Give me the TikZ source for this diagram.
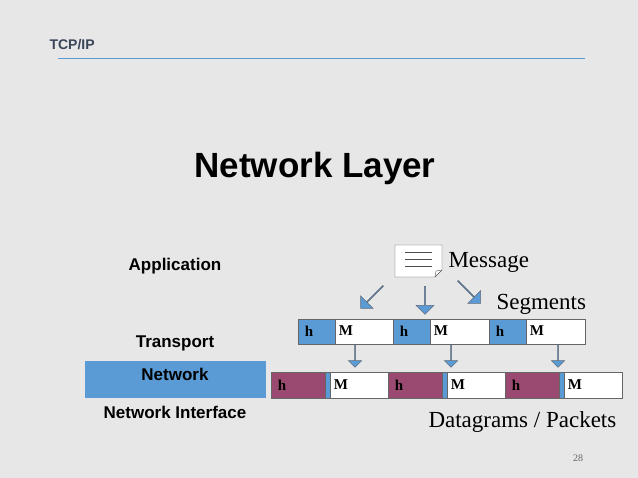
\documentclass[tikz,border=0pt]{standalone}
\usepackage{fontspec}
\setmainfont{Liberation Serif}
\newfontfamily\sans{Liberation Sans}
\usetikzlibrary{shapes.arrows}
\definecolor{bg}{HTML}{E7E7E7}
\definecolor{bl}{HTML}{5B9BD5}
\definecolor{pu}{HTML}{9A4A70}
\definecolor{hd}{HTML}{3A4658}
\begin{document}
\begin{tikzpicture}[x=1pt,y=-1pt,
  lay/.style={font=\sans\bfseries\fontsize{17}{19}\selectfont},
  cell/.style={draw=black!60,line width=0.5pt,anchor=north west,inner sep=0pt},
  ht/.style={font=\bfseries\fontsize{15}{16}\selectfont},
  bar/.style={single arrow,draw=hd!80,fill=bl,line width=0.5pt,minimum width=18pt,single arrow head extend=4pt,single arrow tip angle=90,inner sep=0pt,minimum height=#1},
  lbl/.style={font=\fontsize{23}{26}\selectfont}]
\fill[bg] (0,0) rectangle (638,478);
\useasboundingbox (0,0) rectangle (638,478);
\node[font=\sans\bfseries\fontsize{14}{16}\selectfont,text=hd,anchor=west] (tcp) at (46,45) {TCP/IP};
\coordinate (l1) at (58,58); \coordinate (l2) at (585,58);
\draw[bl,line width=0.8pt] (l1) -- (l2);
\node[font=\sans\bfseries\fontsize{35}{40}\selectfont] (title) at (315,168) {Network Layer};
\node[lay] (app) at (175,266) {Application};
\node[lay] (tra) at (175,343) {Transport};
\fill[bl] (85,361) rectangle (266,398);
\node[lay] (net) at (175,374) {Network};
\node[lay] (ni) at (175,412) {Network Interface};
% message icon
\draw[fill=white,draw=black!70] (395,245) -- (442,245) -- (442,270) -- (435,277) -- (395,277) -- cycle;
\draw[black!70] (435,277) -- (436,271) -- (442,270);
\foreach \yy in {252,259,266} \draw[black!70] (405,\yy) -- (432,\yy);
\node[lbl,anchor=west] (msg) at (445,262) {Message};
\node[lbl,anchor=west] (seg) at (493,304) {Segments};
% segments
\foreach \x/\n in {298/1,393/2,489/3}{
  \node[cell,fill=bl,minimum width=37pt,minimum height=25pt] (sh\n) at (\x,319) {};
  \node[cell,fill=white,minimum width=59pt,minimum height=25pt] (sm\n) at (\x+37,319) {};
  \node[ht] at (\x+11,331) {h};
  \node[ht] at (\x+48,331) {M};
}
% datagrams
\foreach \x/\n in {271/1,388/2,505/3}{
  \node[cell,fill=pu,minimum width=54pt,minimum height=26pt] (dh\n) at (\x,372) {};
  \node[cell,fill=bl,minimum width=5pt,minimum height=26pt] (ds\n) at (\x+54,372) {};
  \node[cell,fill=white,minimum width=58pt,minimum height=26pt] (dm\n) at (\x+59,372) {};
  \node[ht] at (\x+11,385) {h};
  \node[ht] at (\x+70,385) {M};
}
\node[bar=32pt,rotate=-135] (a1) at (372,297) {};
\node[bar=28pt,rotate=-90] (a2) at (425,300) {};
\node[bar=32pt,rotate=-45] (a3) at (469,292) {};
\node[bar=22pt,rotate=-90,minimum width=13pt,single arrow head extend=3pt] (b1) at (355,356) {};
\node[bar=22pt,rotate=-90,minimum width=13pt,single arrow head extend=3pt] (b2) at (451,356) {};
\node[bar=22pt,rotate=-90,minimum width=13pt,single arrow head extend=3pt] (b3) at (558,356) {};
\node[lbl,anchor=west] (dg) at (425,422) {Datagrams / Packets};
\node[font=\fontsize{10}{11}\selectfont,text=black!60] (pg) at (578,458) {28};
\end{tikzpicture}
\end{document}
